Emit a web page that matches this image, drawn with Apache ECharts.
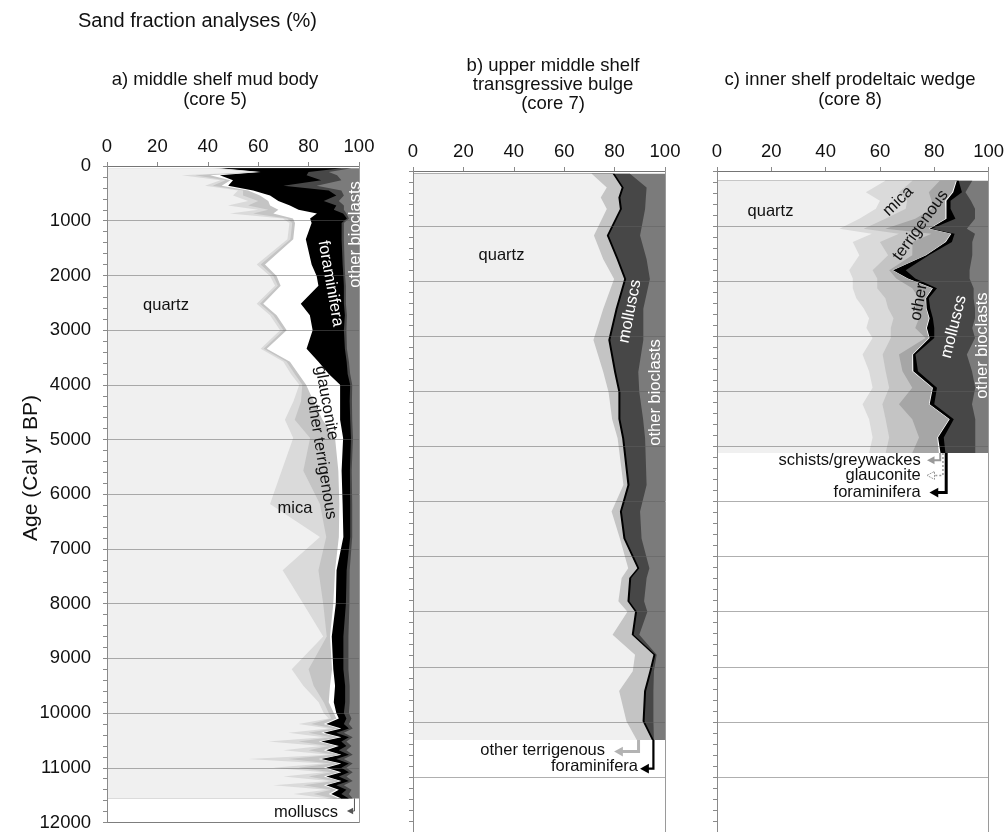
<!DOCTYPE html>
<html>
<head>
<meta charset="utf-8">
<script src="https://cdn.jsdelivr.net/npm/echarts@6/dist/echarts.min.js"></script>
<style>
  html, body { margin: 0; padding: 0; background: #ffffff; }
  #chart { width: 1007px; height: 832px; }
</style>
</head>
<body>
<div id="chart"></div>
<script>
// ---------------- data: sand fraction composition (%) vs age (cal yr BP) ----------------

const pctTicks = [0, 20, 40, 60, 80, 100];

// core 5 : middle shelf mud body
const core5Age = [40, 110, 170, 260, 360, 450, 540, 640, 720, 800, 870, 960, 1040, 1340, 1800, 2010, 2190, 2520, 2730, 3000,
  3340, 3580, 3800, 4000, 4300, 4640, 4970, 5570, 6180, 6780, 7390, 8000, 8600, 9200, 9500, 9800, 10000, 10100, 10200, 10280,
  10360, 10440, 10520, 10600, 10680, 10760, 10840, 10920, 11000, 11080, 11160, 11240, 11320, 11400, 11480, 11560];
const core5Quartz = [42, 58, 29.6, 45, 38.9, 52, 50, 56, 48, 60, 48.8, 69.8, 72.4, 71.6, 59.4, 64.7, 66.7, 59.4, 64.7, 68.7,
  61, 70, 73, 76.3, 74, 70.6, 73.9, 69.3, 64.7, 84.5, 69.7, 77.9, 85.8, 73.3, 77.9, 84, 86, 88, 76, 88,
  72, 86, 64, 85, 70, 88, 56, 86, 66, 86, 70, 88, 66, 87, 74, 88];
const core5Mica = [1, 1, 5.4, 2, 3.1, 2, 4, 4, 8, 4, 9.2, 1.7, 1.1, 1.2, 1.6, 1.3, 1.1, 1.3, 1.3, 1.3,
  1.2, 1.3, 1.5, 1.2, 3, 3.9, 6.7, 8.6, 19.8, 2.5, 14.2, 7.9, 1.4, 6.7, 4.1, 2, 2, 1, 5, 2,
  8, 3, 12, 3, 10, 2, 16, 3, 10, 3, 10, 2, 12, 2, 8, 2];
const core5OtherTerr = [1, 1, 5.9, 2, 3.5, 2, 6.7, 4, 8.7, 4, 8, 2.3, 1.1, 1.1, 1.7, 1.3, 1.1, 1.3, 1.3, 1.3,
  1.2, 1.3, 1.5, 1.5, 5, 11, 9.9, 13.9, 7.7, 5, 6.6, 4, 1.3, 9.3, 6.5, 2, 2, 2, 5, 2,
  5, 3, 8, 3, 6, 2.5, 12, 3, 10, 3, 6, 2.5, 8, 2, 6, 2];
const core5Glauconite = [1, 1, 3.9, 1, 2.6, 2, 4, 4, 7.9, 8, 17.3, 6.8, 6.6, 5, 18.5, 15.9, 15, 14.9, 13.2, 10.3,
  15.8, 11.3, 12, 13.5, 10.5, 7, 3.2, 1.3, 1.3, 1.8, 0.6, 1, 0.7, 0.5, 2, 2, 1, 1, 1, 1,
  1, 1, 1, 1, 1, 0.5, 1, 1, 1, 1, 1, 0.5, 1, 1, 1, 1];
const core5Foraminifera = [48, 19, 34.4, 35, 21.9, 30, 26.3, 18, 18.4, 14, 10.4, 14.6, 11.9, 14.2, 12.3, 10.6, 10.1, 17.1, 13.9, 12.4,
  15.2, 11.2, 7.5, 4, 3.8, 4, 3.1, 3.3, 3, 2.7, 4, 4, 4.6, 4, 4, 4.5, 3, 3, 7, 3,
  5, 3, 8, 3, 5, 3, 6, 3, 6, 3, 5, 3, 4, 3, 4, 3];
const core5Molluscs = [4, 8, 12.1, 8, 13.2, 5, 3, 6, 3, 4, 1.3, 0.8, 0.9, 0.9, 0.8, 0.7, 0.8, 0.8, 0.8, 1,
  0.8, 0.9, 1, 0.8, 0.9, 0.8, 0.8, 0.7, 0.8, 0.8, 1.2, 1.4, 2, 2, 1.8, 1.8, 2, 2, 2, 1.5,
  3, 1.5, 2, 2, 3, 1.5, 3, 1.5, 2, 1.5, 3, 1.5, 3, 2, 3, 1.5];
const core5Bioclasts = [3, 12, 8.7, 7, 16.8, 7, 6, 8, 6, 6, 5, 4, 6, 6, 5.7, 5.5, 5.2, 5.2, 4.8, 5,
  4.8, 4, 3.5, 2.7, 2.8, 2.7, 2.4, 2.9, 2.7, 2.7, 3.7, 3.8, 4.2, 4.2, 3.7, 3.7, 4, 3, 4, 2.5,
  6, 2.5, 5, 3, 5, 2.5, 6, 2.5, 5, 2.5, 5, 2.5, 6, 3, 4, 2.5];

// core 7 : upper middle shelf transgressive bulge
const core7Age = [50, 300, 480, 690, 1170, 1600, 1960, 2500, 3070, 3650, 4010, 4500, 4850, 5700, 6180, 6670, 7210, 7390,
  7810, 8000, 8420, 8780, 9080, 9440, 9990, 10330];
const core7Quartz = [70.9, 76.9, 74.5, 76.9, 71.8, 75.5, 79.8, 75.5, 71.6, 75.5, 77.6, 79, 81.2, 83.5, 78.8, 82.1, 85.4, 82.8,
  81.5, 85.1, 79.2, 88.1, 87.2, 81.8, 84.7, 88.8];
const core7OtherTerr = [8.3, 5.9, 7, 5.2, 5.1, 5.3, 4, 4.9, 5.9, 4.3, 3.9, 2.5, 1.8, 1.6, 3.3, 1.4, 3.6, 3,
  3.6, 3, 7.6, 7.3, 6.6, 9.9, 6.4, 6];
const core7Foraminifera = [0.8, 0.8, 0.8, 0.8, 0.8, 0.8, 0.8, 0.8, 0.8, 0.8, 0.8, 0.8, 0.8, 0.8, 0.8, 0.8, 0.8, 0.8,
  0.8, 0.8, 0.8, 0.8, 0.8, 0.8, 0.8, 0.8];
const core7Molluscs = [6.1, 9.1, 10.1, 9.2, 12.4, 11.1, 9.4, 10.2, 13.1, 8.8, 7.5, 9, 8.3, 6.8, 7.2, 6.4, 4, 6.1,
  5.8, 4.1, 2.2, 0.5, 1, 2.9, 3.5, 0];
const core7Bioclasts = [13.9, 7.3, 7.6, 7.9, 9.9, 7.3, 6, 8.6, 8.6, 10.6, 10.2, 8.7, 7.9, 7.3, 9.9, 9.3, 6.2, 7.3,
  8.3, 7, 10.2, 3.3, 4.4, 4.6, 4.6, 4.4];

// core 8 : inner shelf prodeltaic wedge
const core8Age = [175, 385, 540, 686, 867, 1047, 1137, 1287, 1528, 1800, 1950, 2130, 2310, 2490, 2672, 2850, 3032, 3333,
  3634, 3935, 4235, 4506, 4837, 5120];
const core8Quartz = [62, 54.8, 60, 58.5, 52.4, 45.1, 57, 50, 52.4, 48.7, 50, 50, 51.3, 54, 56, 55, 57.3, 53.6,
  56, 57.3, 53.6, 56, 57.3, 56];
const core8Mica = [10, 12.2, 10, 11, 9.6, 8.9, 10, 10, 10.6, 8.6, 9, 9, 10.7, 9, 9, 9, 6.7, 7.4,
  6.1, 6.1, 7.3, 6.1, 6.1, 6.1];
const core8OtherTerr = [10, 11, 9, 9.7, 11, 8, 12, 12, 8.9, 6.1, 7, 12.9, 12.4, 10, 9.4, 9, 12.8, 6,
  6.2, 8.5, 6.1, 9.8, 11, 9.8];
const core8Schists = [6, 8.6, 5, 4.9, 11.1, 16, 7, 12, 4.9, 1.2, 4, 7.3, 2.4, 4, 3.6, 4, 1.2, 4.9,
  3.6, 7.3, 11, 13.5, 6.7, 9.8];
const core8Glauconite = [0.3, 0.4, 0.5, 0.4, 0.4, 0.3, 0.3, 0.3, 0.2, 0.2, 0.3, 0.3, 0.2, 0.2, 0.3, 0.3, 0.3, 0.3,
  0.4, 0.3, 0.3, 0.3, 0.3, 0.6];
const core8Foraminifera = [0.7, 3.2, 1.5, 1.5, 3.3, 0.7, 1.2, 2.2, 1, 4.7, 2.7, 1.5, 1, 1.3, 1.2, 2.7, 1.7, 0.9,
  1.7, 1.5, 1.7, 1.5, 2.1, 1.8];
const core8Molluscs = [5, 1.3, 7.5, 9, 7.2, 13, 7.5, 7.5, 16, 23.5, 20, 13.5, 16.5, 16.5, 15.5, 14, 15, 18.9,
  19.9, 14.1, 13.9, 7.9, 11.6, 11];
const core8Bioclasts = [6, 8.5, 6.5, 5, 5, 8, 5, 6, 6, 7, 7, 5.5, 5.5, 5, 5, 6, 5, 8,
  6.1, 4.9, 6.1, 4.9, 4.9, 4.9];

// ---------------- styling ----------------
const FONT = '"Liberation Sans", Arial, Helvetica, sans-serif';
const AXIS_COLOR = '#8a8a8a';
const BORDER_COLOR = '#9a9a9a';
const GRID_COLOR = 'rgba(95,95,95,0.5)';
const FILL = {
  quartz: '#f0f0f0', mica: '#dadada', terr: '#c4c4c4', schists: '#a6a6a6',
  glauc: '#ffffff', foram: '#000000', moll: '#474747', bio: '#7b7b7b'
};

const cores = [
  { age: core5Age, layers: [
      ['quartz', core5Quartz], ['mica', core5Mica], ['terr', core5OtherTerr], ['glauc', core5Glauconite],
      ['foram', core5Foraminifera], ['moll', core5Molluscs], ['bio', core5Bioclasts]] },
  { age: core7Age, layers: [
      ['quartz', core7Quartz], ['terr', core7OtherTerr], ['foram', core7Foraminifera],
      ['moll', core7Molluscs], ['bio', core7Bioclasts]] },
  { age: core8Age, layers: [
      ['quartz', core8Quartz], ['mica', core8Mica], ['terr', core8OtherTerr], ['schists', core8Schists],
      ['glauc', core8Glauconite], ['foram', core8Foraminifera], ['moll', core8Molluscs], ['bio', core8Bioclasts]] }
];

// running totals: right-hand edge of each layer
cores.forEach(core => {
  const n = core.age.length;
  let run = new Array(n).fill(0);
  core.edges = core.layers.map(([, vals]) => {
    run = run.map((v, i) => v + vals[i]);
    return run.slice();
  });
});

// in-plot labels, placed in data coordinates [percent, age]
const labelSets = [
  [
    { text: 'quartz', at: [23.4, 2556], rot: 0, color: '#111' },
    { text: 'mica', at: [74.6, 6253], rot: 0, color: '#111' },
    { text: 'foraminifera', at: [88.7, 2148], rot: -80, color: '#ffffff' },
    { text: 'glauconite', at: [87.1, 4332], rot: -80, color: '#111' },
    { text: 'other terrigenous', at: [85.1, 5329], rot: -81, color: '#111' },
    { text: 'other bioclasts', at: [98.4, 1251], rot: 90, color: '#ffffff' },
    { text: 'molluscs', at: [91.7, 11818], rot: 0, color: '#111', align: 'right' }
  ],
  [
    { text: 'quartz', at: [35.1, 1527], rot: 0, color: '#111' },
    { text: 'molluscs', at: [86.1, 2548], rot: 79, color: '#ffffff' },
    { text: 'other bioclasts', at: [96.4, 4021], rot: 90, color: '#ffffff' },
    { text: 'other terrigenous', at: [76.2, 10519], rot: 0, color: '#111', align: 'right' },
    { text: 'foraminifera', at: [89.3, 10808], rot: 0, color: '#111', align: 'right' }
  ],
  [
    { text: 'quartz', at: [19.7, 739], rot: 0, color: '#111' },
    { text: 'mica', at: [66.7, 550], rot: 44, color: '#111' },
    { text: 'terrigenous', at: [75.0, 987], rot: 54, color: '#111' },
    { text: 'other', at: [74.4, 2378], rot: 80, color: '#111' },
    { text: 'molluscs', at: [87.2, 2829], rot: 76, color: '#ffffff' },
    { text: 'other bioclasts', at: [97.8, 3171], rot: 90, color: '#ffffff' },
    { text: 'schists/greywackes', at: [75.0, 5249], rot: 0, color: '#111', align: 'right' },
    { text: 'glauconite', at: [75.0, 5526], rot: 0, color: '#111', align: 'right' },
    { text: 'foraminifera', at: [75.0, 5838], rot: 0, color: '#111', align: 'right' }
  ]
];

// leader arrows from the base of a layer to its label
const arrowSets = [
  [ { path: [[98.2, 11560], [98.2, 11790], [95.6, 11790]], color: '#555', width: 1, head: 4 } ],
  [
    { path: [[89.5, 10330], [89.5, 10540], [80.2, 10540]], color: '#b3b3b3', width: 3, head: 6 },
    { path: [[95.4, 10330], [95.4, 10850], [90.5, 10850]], color: '#000', width: 2.2, head: 6 }
  ],
  [
    { path: [[82.2, 5120], [82.2, 5249], [77.7, 5249]], color: '#999', width: 2, head: 5 },
    { path: [[83.2, 5120], [83.2, 5526], [77.7, 5526]], color: '#9a9a9a', width: 1.5, head: 5, dashed: true },
    { path: [[84.4, 5120], [84.4, 5838], [78.6, 5838]], color: '#000', width: 3, head: 6 }
  ]
];

// ---------------- layout ----------------
const grids = [
  { left: 107, top: 166, width: 252, height: 662 },
  { left: 413, top: 171, width: 252, height: 664 },
  { left: 717, top: 171, width: 273, height: 666 }
];

const xAxes = grids.map((g, i) => ({
  gridIndex: i, type: 'value', position: 'top', min: 0, max: 100, interval: 20,
  axisLine: { show: true, onZero: false, lineStyle: { color: AXIS_COLOR } },
  axisTick: { show: true, inside: false, length: 4, lineStyle: { color: AXIS_COLOR } },
  axisLabel: { margin: 10, fontSize: 18.5, color: '#111', fontFamily: FONT,
    formatter: v => (pctTicks.indexOf(v) >= 0 ? String(v) : '') },
  splitLine: { show: false }
}));
// frame line along the base of the first panel
xAxes.push({
  gridIndex: 0, type: 'value', position: 'bottom', min: 0, max: 100,
  axisLine: { show: true, onZero: false, lineStyle: { color: BORDER_COLOR } },
  axisTick: { show: false }, axisLabel: { show: false }, splitLine: { show: false }
});

const yAxes = grids.map((g, i) => ({
  gridIndex: i, type: 'value', inverse: true, min: 0, max: 12000, interval: 1000, z: 3,
  axisLine: { show: true, onZero: false, lineStyle: { color: AXIS_COLOR } },
  axisTick: { show: true, length: 4, lineStyle: { color: AXIS_COLOR } },
  minorTick: { show: true, splitNumber: 5, length: 4, lineStyle: { color: AXIS_COLOR } },
  axisLabel: { show: i === 0, margin: 16, fontSize: 18.5, color: '#111', fontFamily: FONT,
    formatter: v => String(v) },
  splitLine: { show: true, lineStyle: { color: GRID_COLOR, width: 1 } }
}));
// right-hand frame lines
grids.forEach((g, i) => yAxes.push({
  gridIndex: i, type: 'value', inverse: true, min: 0, max: 12000, position: 'right', z: 3,
  axisLine: { show: true, onZero: false, lineStyle: { color: BORDER_COLOR } },
  axisTick: { show: false }, axisLabel: { show: false }, splitLine: { show: false }
}));

// ---------------- series ----------------
const series = [];

cores.forEach((core, ci) => {
  const n = core.layers.length;
  const order = [];
  for (let k = n - 1; k >= 0; k--) order.push([k, core.age[0]]);
  series.push({
    type: 'custom', name: 'core' + ci, coordinateSystem: 'cartesian2d',
    xAxisIndex: ci, yAxisIndex: ci, silent: true, z: 2, clip: false,
    data: order,
    renderItem: (params, api) => {
      const k = api.value(0);
      const edge = core.edges[k];
      const pts = core.age.map((a, i) => api.coord([edge[i], a]));
      const last = core.age.length - 1;
      pts.push(api.coord([0, core.age[last]]));
      pts.push(api.coord([0, core.age[0]]));
      return {
        type: 'polygon', z2: params.dataIndex,
        shape: { points: pts },
        style: { fill: FILL[core.layers[k][0]], stroke: null }
      };
    }
  });

  const labels = labelSets[ci];
  series.push({
    type: 'custom', coordinateSystem: 'cartesian2d',
    xAxisIndex: ci, yAxisIndex: ci, silent: true, z: 5, clip: false,
    data: labels.map(l => l.at),
    renderItem: (params, api) => {
      const l = labels[params.dataIndex];
      const p = api.coord([api.value(0), api.value(1)]);
      return {
        type: 'text', x: p[0], y: p[1], rotation: l.rot * Math.PI / 180,
        style: {
          text: l.text, fill: l.color, fontSize: 16.5, fontFamily: FONT,
          textAlign: l.align || 'center', textVerticalAlign: 'middle'
        }
      };
    }
  });

  const arrows = arrowSets[ci];
  series.push({
    type: 'custom', coordinateSystem: 'cartesian2d',
    xAxisIndex: ci, yAxisIndex: ci, silent: true, z: 5, clip: false,
    data: arrows.map(a => a.path[0]),
    renderItem: (params, api) => {
      const a = arrows[params.dataIndex];
      const pts = a.path.map(p => api.coord(p));
      const tip = pts[pts.length - 1];
      const h = a.head;
      const head = [[tip[0] - 1, tip[1]], [tip[0] + h * 1.3, tip[1] - h * 0.8], [tip[0] + h * 1.3, tip[1] + h * 0.8]];
      const line = pts.slice(0, -1).concat([[tip[0] + h, tip[1]]]);
      return {
        type: 'group',
        children: [
          { type: 'polyline', shape: { points: line },
            style: { stroke: a.color, lineWidth: a.width, fill: null, lineDash: a.dashed ? [2, 2] : null } },
          { type: 'polygon', shape: { points: head },
            style: a.dashed ? { fill: '#ffffff', stroke: a.color, lineWidth: 1, lineDash: [2, 1] }
                            : { fill: a.color, stroke: null } }
        ]
      };
    }
  });
});

// ---------------- titles ----------------
const txt = (text, x, y, size, extra) => Object.assign({
  type: 'text', x: x, y: y, silent: true,
  style: { text: text, fill: '#111', fontSize: size, fontFamily: FONT, textAlign: 'center', textVerticalAlign: 'middle' }
}, extra || {});

const graphic = [
  { type: 'text', x: 78, y: 21, silent: true,
    style: { text: 'Sand fraction analyses (%)', fill: '#111', fontSize: 20, fontFamily: FONT, textAlign: 'left', textVerticalAlign: 'middle' } },
  txt('a) middle shelf mud body', 215, 80, 18.5),
  txt('(core 5)', 215, 100, 18.5),
  txt('b) upper middle shelf', 553, 66, 18.5),
  txt('transgressive bulge', 553, 85, 18.5),
  txt('(core 7)', 553, 104, 18.5),
  txt('c) inner shelf prodeltaic wedge', 850, 80, 18.5),
  txt('(core 8)', 850, 100, 18.5),
  txt('Age (Cal yr BP)', 31, 468, 21, { rotation: Math.PI / 2 })
];

const chart = echarts.init(document.getElementById('chart'), null, { renderer: 'canvas' });
chart.setOption({
  animation: false,
  backgroundColor: '#ffffff',
  grid: grids,
  xAxis: xAxes,
  yAxis: yAxes,
  series: series,
  graphic: graphic
});
</script>
</body>
</html>
